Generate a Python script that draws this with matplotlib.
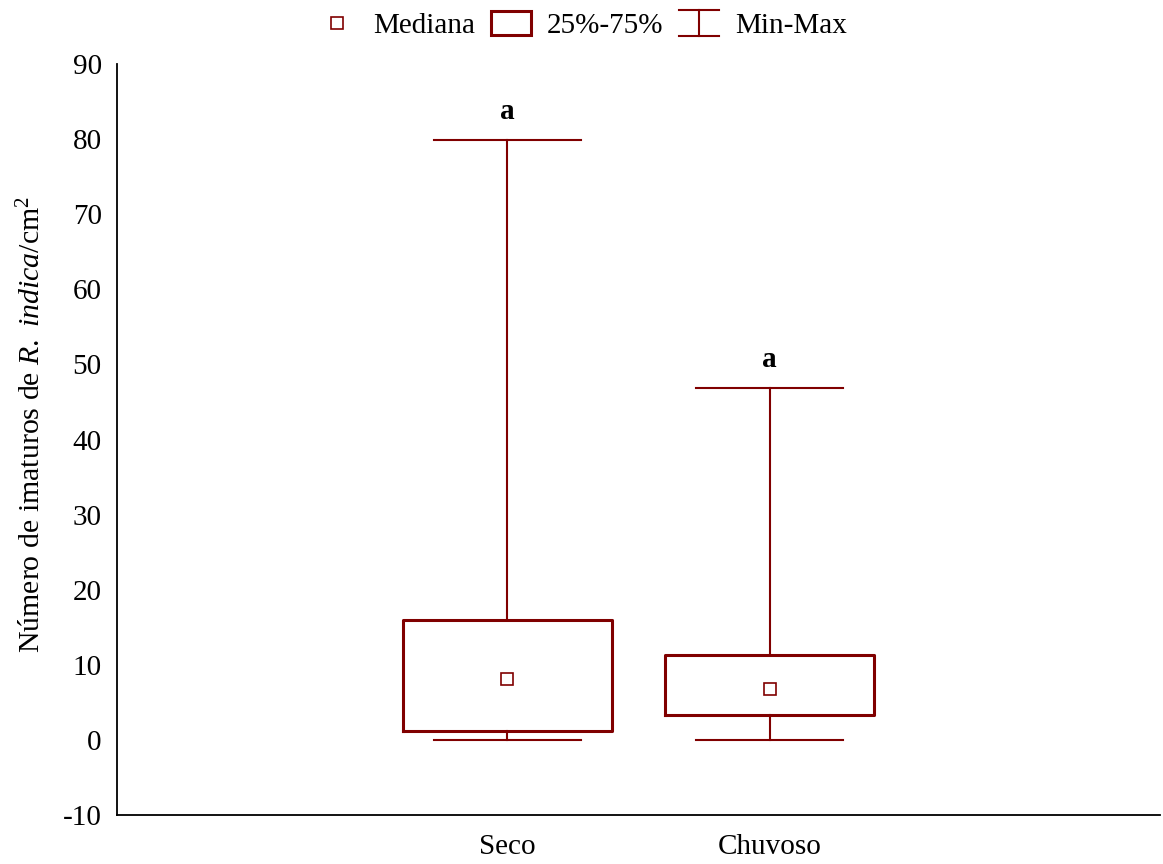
import numpy as np
import matplotlib
matplotlib.use('Agg')
import matplotlib.pyplot as plt
from matplotlib.lines import Line2D
from matplotlib.patches import Rectangle
from matplotlib.legend_handler import HandlerBase

plt.rcParams['font.family'] = ['Liberation Serif', 'DejaVu Serif']
plt.rcParams['mathtext.fontset'] = 'custom'
plt.rcParams['mathtext.rm'] = 'Liberation Serif'
plt.rcParams['mathtext.it'] = 'Liberation Serif:italic'
plt.rcParams['axes.unicode_minus'] = False

# values
groups = ['Seco', 'Chuvoso']
medians = [8.1, 6.8]
q1 = [1.2, 3.3]
q3 = [16.0, 11.3]
mins = [0.0, 0.0]
maxs = [79.9, 46.9]
letters = ['a', 'a']

red = '#800000'
fs = 21

stats = []
for i in range(len(groups)):
    stats.append(dict(label=groups[i], med=medians[i], mean=medians[i],
                      q1=q1[i], q3=q3[i], whislo=mins[i], whishi=maxs[i], fliers=[]))

fig = plt.figure(figsize=(11.63, 8.64), dpi=100)
ax = fig.add_axes([0.1006, 0.0567, 0.8968, 1 - 0.0567 - 64 / 864])

ax.bxp(stats, positions=[0, 1], widths=0.8, capwidths=0.56, showmeans=True,
       boxprops=dict(color=red, linewidth=2.2),
       whiskerprops=dict(color=red, linewidth=1.5),
       capprops=dict(color=red, linewidth=1.5),
       medianprops=dict(visible=False),
       meanprops=dict(marker='s', markerfacecolor='white', markeredgecolor=red,
                      markersize=9, markeredgewidth=1.2))

for i in range(len(groups)):
    ax.text(i, maxs[i] + 3.8, letters[i], ha='center', va='center',
            fontsize=fs, fontweight='bold')

ax.set_xlim(-1.49, 2.49)
ax.set_ylim(-10, 90)
ax.set_yticks(np.arange(-10, 91, 10))
ax.set_xticks([0, 1])
ax.set_xticklabels(groups)
ax.tick_params(axis='both', length=0, labelsize=fs)
ax.tick_params(axis='y', pad=11)
ax.tick_params(axis='x', pad=14)
for s in ['top', 'right']:
    ax.spines[s].set_visible(False)
for s in ['left', 'bottom']:
    ax.spines[s].set_linewidth(1.3)
ax.set_ylabel(r'Número de imaturos de $\mathit{R.}$ $\mathit{indica}$/cm$^2$', fontsize=fs + 0.5)
ax.yaxis.set_label_coords(-0.068, 0.52)


class MinMaxHandler(HandlerBase):
    def create_artists(self, legend, orig_handle, xdescent, ydescent, width, height, fontsize, trans):
        x0, x1 = -xdescent, -xdescent + width
        yc = -ydescent + height / 2
        y0, y1 = yc - 0.63 * height, yc + 0.63 * height
        xm = (x0 + x1) / 2
        lines = [Line2D([x0, x1], [y1, y1]), Line2D([x0, x1], [y0, y0]), Line2D([xm, xm], [y0, y1])]
        for ln in lines:
            ln.set_color(red)
            ln.set_linewidth(1.5)
            ln.set_transform(trans)
        return lines


class BoxHandler(HandlerBase):
    def create_artists(self, legend, orig_handle, xdescent, ydescent, width, height, fontsize, trans):
        yc = -ydescent + height / 2
        r = Rectangle((-xdescent, yc - 0.6 * height), width, 1.2 * height,
                      facecolor='white', edgecolor=red, linewidth=2.2, transform=trans)
        return [r]


med_h = Line2D([], [], linestyle='none', marker='s', markerfacecolor='white',
               markeredgecolor=red, markersize=9, markeredgewidth=1.2)
box_h = Rectangle((0, 0), 1, 1)
mm_h = Line2D([], [])
fig.legend([med_h, box_h, mm_h], ['Mediana', '25%-75%', 'Min-Max'],
           handler_map={box_h: BoxHandler(), mm_h: MinMaxHandler()},
           loc='center', bbox_to_anchor=(582 / 1163, 1 - 26 / 864), ncol=3, frameon=False,
           fontsize=fs, handlelength=1.38, handletextpad=0.55, columnspacing=0.52,
           borderpad=0, borderaxespad=0)

plt.savefig('out.png', dpi=100)
